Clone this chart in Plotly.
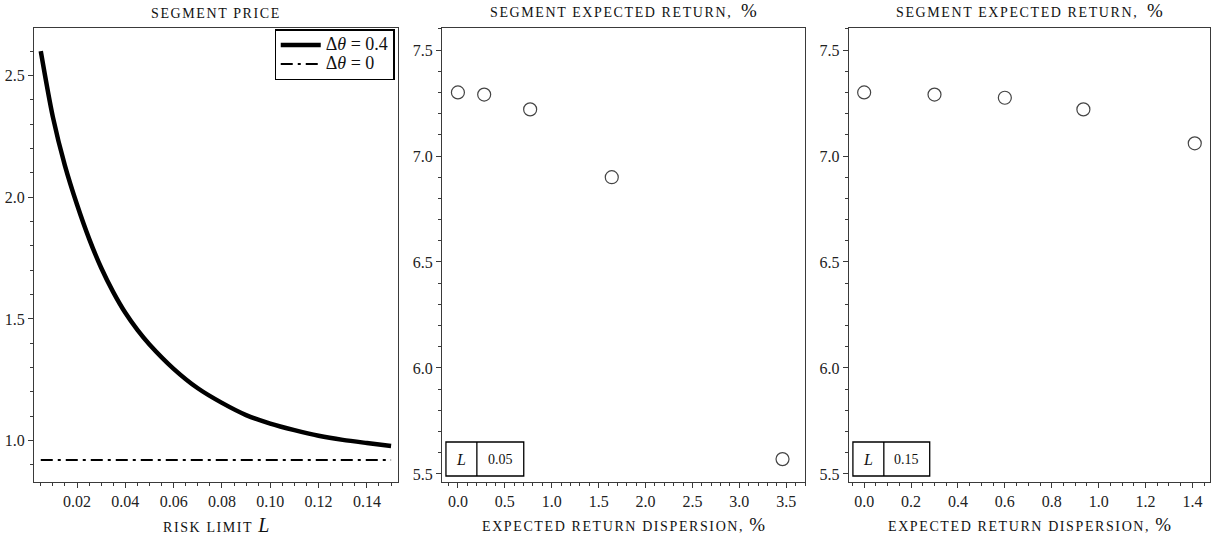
import plotly.graph_objects as go
from plotly.subplots import make_subplots

# ---- data ----
risk_limit = [0.005, 0.01, 0.015, 0.02, 0.025, 0.03, 0.035, 0.04, 0.045, 0.05,
              0.06, 0.07, 0.08, 0.09, 0.10, 0.11, 0.12, 0.13, 0.14, 0.15]
price_dtheta_04 = [2.60, 2.33, 2.13, 1.97, 1.83, 1.71, 1.61, 1.525, 1.455, 1.395,
                   1.295, 1.215, 1.155, 1.105, 1.07, 1.043, 1.02, 1.003, 0.99, 0.978]
price_dtheta_0 = [0.92] * len(risk_limit)

disp_L005 = [0.0, 0.28, 0.77, 1.64, 3.46]
ret_L005 = [7.30, 7.29, 7.22, 6.90, 5.57]
disp_L015 = [0.0, 0.30, 0.60, 0.935, 1.41]
ret_L015 = [7.30, 7.29, 7.275, 7.22, 7.06]

table_labels = ["0.05", "0.15"]

FONT = "Liberation Serif"
AX = "#3a3a3a"

fig = make_subplots(rows=1, cols=3)

LEG = "<span style='font-size:18px'>Δ<i>θ</i> = {}</span>"
fig.add_trace(go.Scatter(x=risk_limit, y=price_dtheta_04, mode="lines",
                         line=dict(color="black", width=4.5, shape="spline", smoothing=0.8),
                         name=LEG.format("0.4")), row=1, col=1)
fig.add_trace(go.Scatter(x=risk_limit, y=price_dtheta_0, mode="lines",
                         line=dict(color="black", width=2, dash="12px,5px,3px,5px"),
                         name=LEG.format("0")), row=1, col=1)

for col, (xs, ys) in zip([2, 3], [(disp_L005, ret_L005), (disp_L015, ret_L015)]):
    fig.add_trace(go.Scatter(x=xs, y=ys, mode="markers", showlegend=False,
                             marker=dict(symbol="circle-open", size=13, color="#444",
                                         line=dict(color="#444", width=1.2))),
                  row=1, col=col)

W, H = 1216, 540
ml, mr, mt, mb = 32, 5, 28, 58
pw = W - ml - mr
ph = H - mt - mb

def px(x):
    return (x - ml) / pw

def py(y):
    return (H - mb - y) / ph

def dom(a, b):
    return [px(a), px(b)]

doms = [dom(32, 397), dom(441, 805), dom(849, 1211)]

axis_common = dict(showline=True, mirror=True, linecolor=AX, linewidth=1.2,
                   showgrid=False, zeroline=False, ticks="outside", ticklen=5,
                   tickcolor=AX, tickfont=dict(family=FONT, size=16, color="#222"))

fig.update_layout(
    xaxis=dict(domain=doms[0], range=[0.0022, 0.1529], tickvals=[0.02, 0.04, 0.06, 0.08, 0.10, 0.12, 0.14],
               ticktext=["0.02", "0.04", "0.06", "0.08", "0.10", "0.12", "0.14"],
               minor=dict(dtick=0.005, tick0=0, ticks="outside", ticklen=2.5, tickcolor=AX),
               **axis_common),
    yaxis=dict(range=[0.83, 2.695], tickvals=[1.0, 1.5, 2.0, 2.5], ticktext=["1.0", "1.5", "2.0", "2.5"],
               minor=dict(dtick=0.1, tick0=0, ticks="outside", ticklen=3, tickcolor=AX),
               **axis_common),
    xaxis2=dict(domain=doms[1], range=[-0.17, 3.7], tickvals=[0, 0.5, 1, 1.5, 2, 2.5, 3, 3.5],
                ticktext=["0.0", "0.5", "1.0", "1.5", "2.0", "2.5", "3.0", "3.5"],
                minor=dict(dtick=0.1, tick0=0, ticks="outside", ticklen=2.5, tickcolor=AX),
                **axis_common),
    yaxis2=dict(range=[5.462, 7.604], tickvals=[5.5, 6.0, 6.5, 7.0, 7.5],
                ticktext=["5.5", "6.0", "6.5", "7.0", "7.5"],
                minor=dict(dtick=0.1, tick0=0, ticks="outside", ticklen=3, tickcolor=AX),
                **axis_common),
    xaxis3=dict(domain=doms[2], range=[-0.065, 1.475], tickvals=[0, 0.2, 0.4, 0.6, 0.8, 1.0, 1.2, 1.4],
                ticktext=["0.0", "0.2", "0.4", "0.6", "0.8", "1.0", "1.2", "1.4"],
                minor=dict(dtick=0.05, tick0=0, ticks="outside", ticklen=2.5, tickcolor=AX),
                **axis_common),
    yaxis3=dict(range=[5.462, 7.604], tickvals=[5.5, 6.0, 6.5, 7.0, 7.5],
                ticktext=["5.5", "6.0", "6.5", "7.0", "7.5"],
                minor=dict(dtick=0.1, tick0=0, ticks="outside", ticklen=3, tickcolor=AX),
                **axis_common),
)

fig.update_layout(
    width=W, height=H, margin=dict(l=ml, r=mr, t=mt, b=mb),
    paper_bgcolor="white", plot_bgcolor="white",
    font=dict(family=FONT, color="#222"),
    legend=dict(x=doms[0][1] - 0.003, y=0.997, xanchor="right", yanchor="top",
                bordercolor="black", borderwidth=1.2, bgcolor="white",
                font=dict(family=FONT, size=12, color="#111"),
                tracegroupgap=0, itemwidth=40),
)

def mid(d):
    return (d[0] + d[1]) / 2

LS = "letter-spacing:1.6px"
pct = "<span style='font-size:19px;letter-spacing:0px'>%</span>"
titles = [f"<span style='{LS}'>SEGMENT PRICE</span>",
          f"<span style='{LS}'>SEGMENT EXPECTED RETURN, </span> {pct}",
          f"<span style='{LS}'>SEGMENT EXPECTED RETURN, </span> {pct}"]
xtitles = [f"<span style='{LS}'>RISK LIMIT </span><i><span style='font-size:20px'>L</span></i>",
           f"<span style='{LS}'>EXPECTED RETURN DISPERSION, </span>{pct}",
           f"<span style='{LS}'>EXPECTED RETURN DISPERSION, </span>{pct}"]
for i in range(3):
    fig.add_annotation(text=titles[i], x=mid(doms[i]), y=1, xref="paper", yref="paper",
                       xanchor="center", yanchor="bottom", yshift=5, showarrow=False,
                       font=dict(family=FONT, size=14, color="#111"))
    fig.add_annotation(text=xtitles[i], x=mid(doms[i]), y=0, xref="paper", yref="paper",
                       xanchor="center", yanchor="top", yshift=-30, showarrow=False,
                       font=dict(family=FONT, size=14, color="#111"))

# small tables "L | value" (pixel positions of the boxes)
tables = [(445, 476, 523), (853, 884, 930)]
ty0, ty1 = 442, 476
for k, (x0, xm, x1) in enumerate(tables):
    fig.add_shape(type="rect", xref="paper", yref="paper",
                  x0=px(x0), x1=px(x1), y0=py(ty1), y1=py(ty0),
                  line=dict(color="black", width=1.3), fillcolor="white")
    fig.add_shape(type="line", xref="paper", yref="paper",
                  x0=px(xm), x1=px(xm), y0=py(ty1), y1=py(ty0),
                  line=dict(color="black", width=1.3))
    fig.add_annotation(text="<i>L</i>", xref="paper", yref="paper",
                       x=px((x0 + xm) / 2), y=py((ty0 + ty1) / 2),
                       xanchor="center", yanchor="middle", showarrow=False,
                       font=dict(family=FONT, size=16, color="#111"))
    fig.add_annotation(text=table_labels[k], xref="paper", yref="paper",
                       x=px((xm + x1) / 2), y=py((ty0 + ty1) / 2),
                       xanchor="center", yanchor="middle", showarrow=False,
                       font=dict(family=FONT, size=14, color="#111"))

fig.write_html("out.html")
